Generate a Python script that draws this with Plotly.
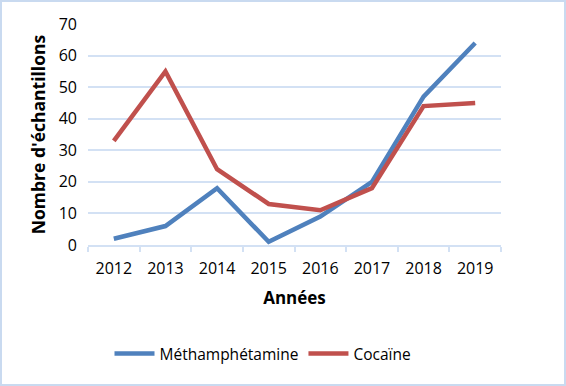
import plotly.graph_objects as go

years = ["2012", "2013", "2014", "2015", "2016", "2017", "2018", "2019"]
meth = [2, 6, 18, 1, 9, 20, 47, 64]
coca = [33, 55, 24, 13, 11, 18, 44, 45]
y_ticks = [0, 10, 20, 30, 40, 50, 60, 70]

W, H = 566, 386
ml, mr, mt, mb = 88, 65, 24, 141
pw = W - ml - mr
ph = H - mt - mb

grid = "#D3E1F4"
font = "Open Sans"

fig = go.Figure()
fig.add_trace(go.Scatter(x=years, y=meth, mode="lines", name="Méthamphétamine",
                         line=dict(color="#4F81BD", width=4.5)))
fig.add_trace(go.Scatter(x=years, y=coca, mode="lines", name="Cocaïne",
                         line=dict(color="#C0504D", width=4.5)))

fig.update_layout(
    width=W, height=H,
    margin=dict(l=ml, r=mr, t=mt, b=mb),
    paper_bgcolor="white", plot_bgcolor="white",
    font=dict(family=font, color="#000000", size=15),
    showlegend=True,
    legend=dict(orientation="h", x=(263 - ml) / pw, xanchor="center",
                y=-(354 - 245) / ph, yanchor="middle",
                font=dict(family=font, size=15.5), itemwidth=40,
                bgcolor="rgba(0,0,0,0)"),
    xaxis=dict(type="category", range=[-0.5, 7.5], tickson="boundaries",
               ticks="outside", ticklen=5, tickcolor=grid, tickwidth=1.5,
               showline=True, linecolor=grid, linewidth=1.5,
               showgrid=False, zeroline=False, ticklabelstandoff=8,
               tickfont=dict(family=font, size=16),
               title=dict(text="<b>Années</b>", standoff=14,
                          font=dict(family=font, size=17))),
    yaxis=dict(range=[0, 70], tickvals=y_ticks, showgrid=True, gridcolor=grid,
               gridwidth=1.5, zeroline=False, showline=False, ticks="",
               ticklabelstandoff=10,
               tickfont=dict(family=font, size=16),
               title=dict(text="<b>Nombre d'échantillons</b>", standoff=8,
                          font=dict(family=font, size=17.5))),
    shapes=[dict(type="rect", xref="paper", yref="paper",
                 x0=-(ml - 1) / pw, x1=1 + (mr - 1) / pw,
                 y0=-(mb - 1) / ph, y1=1 + (mt - 1) / ph,
                 line=dict(color="#C9DAF0", width=2), fillcolor="rgba(0,0,0,0)",
                 layer="below")],
)

fig.write_html("out.html", config={"displayModeBar": False},
               post_script="document.body.style.margin='0';")
